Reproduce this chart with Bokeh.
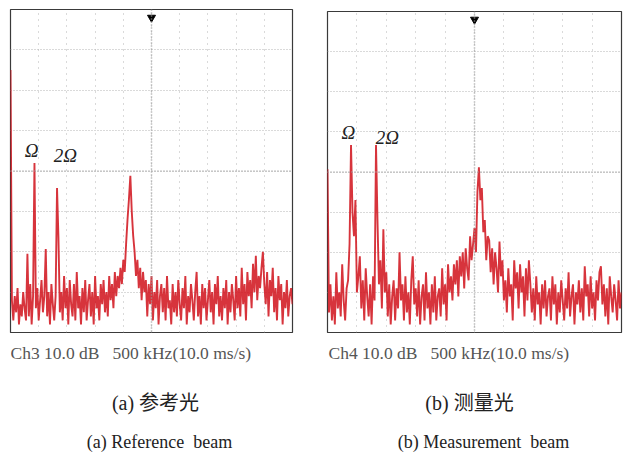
import numpy as np
from bokeh.plotting import figure
from bokeh.layouts import row, column
from bokeh.models import Label, Span
from bokeh.core.properties import value
from bokeh.embed import file_html
from bokeh.resources import INLINE

# Spectrum traces (dB above screen bottom, 10 dB/div, 8 div), sampled evenly across 10 divisions
ref_beam = [
    65, 8, 3, 9, 5, 11, 2, 7, 4, 10, 6, 3,
    19.5, 4, 12, 2, 9,
    42, 6, 11, 3, 8, 13, 5, 9,
    20.7, 4, 10, 2, 12, 7, 3, 9,
    35.8, 23.5,
    5, 10, 3, 14, 6, 11, 2, 13, 7, 4, 12, 3, 15, 6, 9, 2,
    11, 5, 13, 3, 8, 12, 4, 10, 2, 14, 6, 9, 3, 12, 7, 13, 5, 10, 4, 14, 8, 12, 6, 15,
    9, 14, 11, 16, 12, 18, 15, 22,
    28, 33, 38.8, 30, 24, 20,
    14, 18, 11, 16, 8, 15, 10, 13, 4, 12, 7, 14,
    3, 10, 6, 13, 2, 9, 12, 5, 11, 3, 14, 6, 8, 2, 12, 5, 10, 4, 13, 7,
    3, 11, 6, 14, 2, 9, 5, 12, 8, 3, 10, 15, 4, 9, 2, 12, 6, 11, 3, 8,
    13, 5, 10, 2, 12, 7, 14, 4, 9, 3, 11, 6, 13, 2, 10, 5, 12, 8, 3, 14,
    6, 11, 4, 16, 7, 12, 3, 15, 9, 13,
    6, 17, 10, 19, 8, 14, 11, 16, 20, 12, 7, 15, 4, 13, 9, 16, 5, 11, 3, 14,
    8, 12, 2, 10, 6, 13, 4, 9, 11, 7,
]

meas_beam = [
    40.7,
    5, 12, 3, 9, 2, 15, 6, 10, 4, 17, 8, 3, 11, 13,
    22, 46.7, 30, 24, 33, 10, 14, 19, 6, 13, 3, 16, 9, 4, 12, 2, 14, 8,
    46.7, 28, 12, 18, 6, 25.7, 10, 15, 4, 12, 2, 9, 13, 3, 11, 6, 20, 8, 12, 3, 14, 5, 10, 2, 13, 19, 7, 11,
    4, 13, 2, 9, 12, 3, 15, 6, 10, 2, 12, 5, 14, 3, 9, 11, 4, 16, 7, 12, 3, 17, 10, 14, 8,
    17, 12, 18, 9, 19, 14, 20, 11, 21, 16, 13, 24, 18, 22, 26, 20,
    35, 41.2, 33, 36, 25, 28, 18, 24, 23, 15, 21, 12, 20, 16, 10, 22.7, 14, 18, 8,
    13, 5, 16, 9, 12, 3, 18, 11, 15, 6, 17, 10, 14, 4, 16, 8, 18, 12, 5, 11,
    3, 14, 7, 10, 2, 12, 6, 13, 4, 9,
    11, 3, 14, 7, 12, 2, 10, 5, 13, 8, 3, 11, 6, 15, 4, 9, 12, 2, 10, 7,
    13, 5, 11, 3, 16.5, 9, 12, 4, 14, 6, 10, 3, 13, 8, 15, 16.5, 7, 12, 4, 11,
    2, 14, 9, 5, 12, 8, 3, 13, 6, 10,
]

NB = "\u00a0"
channel_labels = ["Ch3 10.0 dB" + NB * 3 + "500 kHz(10.0 ms/s)",
                  "Ch4 10.0 dB" + NB * 3 + "500 kHz(10.0 ms/s)"]
captions_cn = ["(a) 参考光", "(b) 测量光"]
captions_en = ["(a) Reference" + NB * 2 + "beam", "(b) Measurement" + NB * 2 + "beam"]
peak_labels = ["Ω", "2Ω"]

X_DIVS = 10
Y_MAX = 80

TRACE = "#d0101a"
GRID = "#b4b4b4"
SERIF = "'Liberation Serif', 'Noto Sans CJK SC', serif"


def panel(vals, geom, lab_pos):
    w, bl, br, bt = geom
    p = figure(width=w, height=333, x_range=(0, X_DIVS), y_range=(0, Y_MAX),
               x_axis_location=None, y_axis_location=None,
               toolbar_location=None, output_backend="svg",
               min_border_left=bl, min_border_right=br,
               min_border_top=bt, min_border_bottom=1,
               outline_line_color="#3a3a3a", outline_line_width=1.2,
               background_fill_color="white", border_fill_color="white")
    p.xgrid.ticker = list(range(0, X_DIVS + 1))
    p.ygrid.ticker = list(range(0, Y_MAX + 1, 10))
    p.xgrid.grid_line_color = GRID
    p.xgrid.grid_line_dash = "1 5"
    p.ygrid.grid_line_color = GRID
    p.ygrid.grid_line_dash = "1 2"
    p.add_layout(Span(location=5, dimension="height", line_color="#9a9a9a",
                      line_dash="1 2", line_width=1.5))
    p.add_layout(Span(location=40, dimension="width", line_color="#a8a8a8",
                      line_dash="1 2", line_width=1.3))

    xs = np.linspace(0, X_DIVS, len(vals))
    p.line(xs, vals, line_color=TRACE, line_width=1.9, line_alpha=0.85)

    # trigger marker
    p.scatter([5], [78.0], marker="inverted_triangle", size=8, color="black")

    for (lx, ly), txt in zip(lab_pos, peak_labels):
        p.add_layout(Label(x=lx, y=ly, text=txt, text_font=SERIF,
                           text_font_style="italic", text_font_size="19px",
                           text_align="center", text_baseline="middle", text_color="#222"))
    return p


def caption_fig(w, bl, br, idx, pos):
    # x range in window-local pixels (frame spans bl .. w-br, aligned with the panel above)
    c = figure(width=w, height=119, x_range=(bl, w - br), y_range=(119, 0),
               x_axis_location=None, y_axis_location=None,
               toolbar_location=None, output_backend="svg",
               min_border_left=bl, min_border_right=br, min_border_top=0,
               min_border_bottom=0, outline_line_color=None)
    c.grid.visible = False
    (xc, yc), (xn, yn), (xe, ye) = pos
    c.text(x=[xc], y=[yc], text=[channel_labels[idx]], text_font=value(SERIF),
           text_font_size=value("17.5px"), text_align="left", text_baseline="middle",
           text_color="#555555")
    c.text(x=[xn], y=[yn], text=[captions_cn[idx]], text_font=value(SERIF),
           text_font_size=value("20px"), text_align="center", text_baseline="middle",
           text_color="#222")
    c.text(x=[xe], y=[ye], text=[captions_en[idx]], text_font=value(SERIF),
           text_font_size=value("18px"), text_align="center", text_baseline="middle",
           text_color="#222")
    return c


left = panel(ref_beam, (313, 10, 21, 9), ((0.75, 45.1), (1.95, 43.8)))
right = panel(meas_beam, (314, 14, 6, 11), ((0.71, 49.8), (2.04, 48.6)))

left_cap = caption_fig(313, 10, 21, 0, ((10, 19), (155, 69), (159, 108)))
right_cap = caption_fig(314, 14, 6, 1, ((15, 19), (156, 69), (170, 108)))

layout = row(column(left, left_cap), column(right, right_cap))
open("out.html", "w").write(file_html(layout, INLINE))
